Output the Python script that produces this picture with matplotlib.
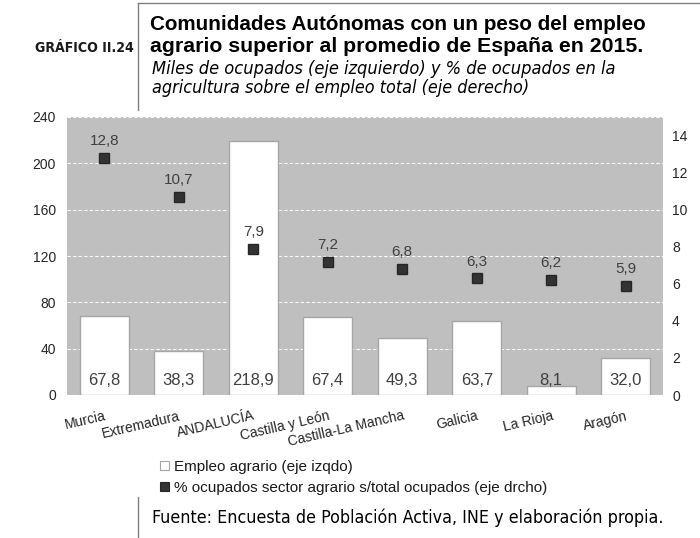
import matplotlib
matplotlib.use("Agg")
import matplotlib.pyplot as plt
from matplotlib.patches import Patch
from matplotlib.lines import Line2D

# ---- data ----
regiones = ["Murcia", "Extremadura", "ANDALUCÍA", "Castilla y León",
            "Castilla-La Mancha", "Galicia", "La Rioja", "Aragón"]
empleo = [67.8, 38.3, 218.9, 67.4, 49.3, 63.7, 8.1, 32.0]
porcentaje = [12.8, 10.7, 7.9, 7.2, 6.8, 6.3, 6.2, 5.9]
left_ticks = [0, 40, 80, 120, 160, 200, 240]
right_ticks = [0, 2, 4, 6, 8, 10, 12, 14]

titulo_num = "GRÁFICO II.24"
titulo = ["Comunidades Autónomas con un peso del empleo",
          "agrario superior al promedio de España en 2015."]
subtitulo = ["Miles de ocupados (eje izquierdo) y % de ocupados en la",
             "agricultura sobre el empleo total (eje derecho)"]
fuente = "Fuente: Encuesta de Población Activa, INE y elaboración propia."
leyenda = ["Empleo agrario (eje izqdo)",
           "% ocupados sector agrario s/total ocupados (eje drcho)"]

SANS = "Liberation Sans"
plt.rcParams["font.family"] = [SANS, "DejaVu Sans"]

W, H = 700, 538
fig = plt.figure(figsize=(7, 5.38), dpi=100)
renderer = fig.canvas.get_renderer()


def fx(x):
    return x / W


def fy(y):
    return 1 - y / H


def fit_text(x, y, s, width, **kw):
    t = fig.text(fx(x), fy(y), s, va="baseline", ha="left", **kw)
    size = kw.get("fontsize", 12)
    for _ in range(3):
        bb = t.get_window_extent(renderer=renderer)
        size = size * width / bb.width
        t.set_fontsize(size)
    return t


GRAY_BG = "#bfbfbf"
TXT = "#262626"

ax = fig.add_axes([fx(67), fy(395), fx(663) - fx(67), (395 - 117) / H])
ax.set_facecolor(GRAY_BG)
for s in ax.spines.values():
    s.set_visible(False)

x = list(range(len(regiones)))
ax.bar(x, empleo, width=0.66, color="white", edgecolor="#a6a6a6", linewidth=1.0, zorder=3)
ax.set_xlim(-0.5, len(regiones) - 0.5)
ax.set_ylim(0, 240)
ax.set_yticks(left_ticks)
ax.yaxis.grid(True, color="white", linestyle=(0, (3, 2)), linewidth=0.8, zorder=0)
ax.set_axisbelow(True)
ax.tick_params(axis="both", length=0)
ax.tick_params(axis="y", labelsize=10, labelcolor=TXT, pad=8)
ax.set_xticks(x)
ax.set_xticklabels(regiones, rotation=13, ha="right", va="top",
                   rotation_mode="anchor", fontsize=10, color=TXT)
ax.tick_params(axis="x", pad=10)

for xi, v in zip(x, empleo):
    ax.annotate(f"{v:.1f}".replace(".", ","), (xi, 0), xytext=(0, 5),
                textcoords="offset points", ha="center", va="bottom",
                fontsize=12, color="#404040", zorder=5)

ax2 = ax.twinx()
for s in ax2.spines.values():
    s.set_visible(False)
ax2.set_ylim(0, 15)
ax2.set_yticks(right_ticks)
ax2.tick_params(axis="y", length=0, labelsize=10, labelcolor=TXT, pad=6.5)
ax2.plot(x, porcentaje, linestyle="none", marker="s", markersize=7,
         markerfacecolor="#333333", markeredgecolor="#262626", zorder=6)
for xi, v in zip(x, porcentaje):
    ax2.annotate(f"{v:.1f}".replace(".", ","), (xi, v), xytext=(0, 7),
                 textcoords="offset points", ha="center", va="bottom",
                 fontsize=11, color="#404040")

# header
fig.add_artist(Line2D([fx(138), fx(138)], [fy(3), fy(110)], color="#808080", lw=1))
fig.add_artist(Line2D([fx(138), fx(700)], [fy(3), fy(3)], color="#808080", lw=1))
fit_text(35, 52, titulo_num, 98, fontsize=11, fontweight="bold",
         family="DejaVu Sans", fontstretch="condensed", color="#1a1a1a")
fit_text(150, 30, titulo[0], 495, fontsize=15, fontweight="bold", color="black")
fit_text(150, 52, titulo[1], 493, fontsize=15, fontweight="bold", color="black")
fit_text(152, 74, subtitulo[0], 463, fontsize=11, style="italic",
         family="DejaVu Sans", fontstretch="condensed", color="black")
fit_text(152, 93, subtitulo[1], 375, fontsize=11, style="italic",
         family="DejaVu Sans", fontstretch="condensed", color="black")

# legend
handles = [Patch(facecolor="white", edgecolor="#a6a6a6", linewidth=0.8),
           Patch(facecolor="#333333", edgecolor="#262626", linewidth=0.8)]
fig.legend(handles, leyenda, loc="upper left", bbox_to_anchor=(fx(160), fy(460)),
           frameon=False, fontsize=11, handlelength=0.6, handleheight=0.6,
           handletextpad=0.3, labelspacing=0.45, borderaxespad=0, borderpad=0,
           labelcolor="#1a1a1a")

# footer
fig.add_artist(Line2D([fx(138), fx(138)], [fy(497), fy(538)], color="#808080", lw=1))
fit_text(152, 523, fuente, 513, fontsize=14, family="DejaVu Sans",
         fontstretch="condensed", color="black")

fig.savefig("out.png", dpi=100, facecolor="white")
